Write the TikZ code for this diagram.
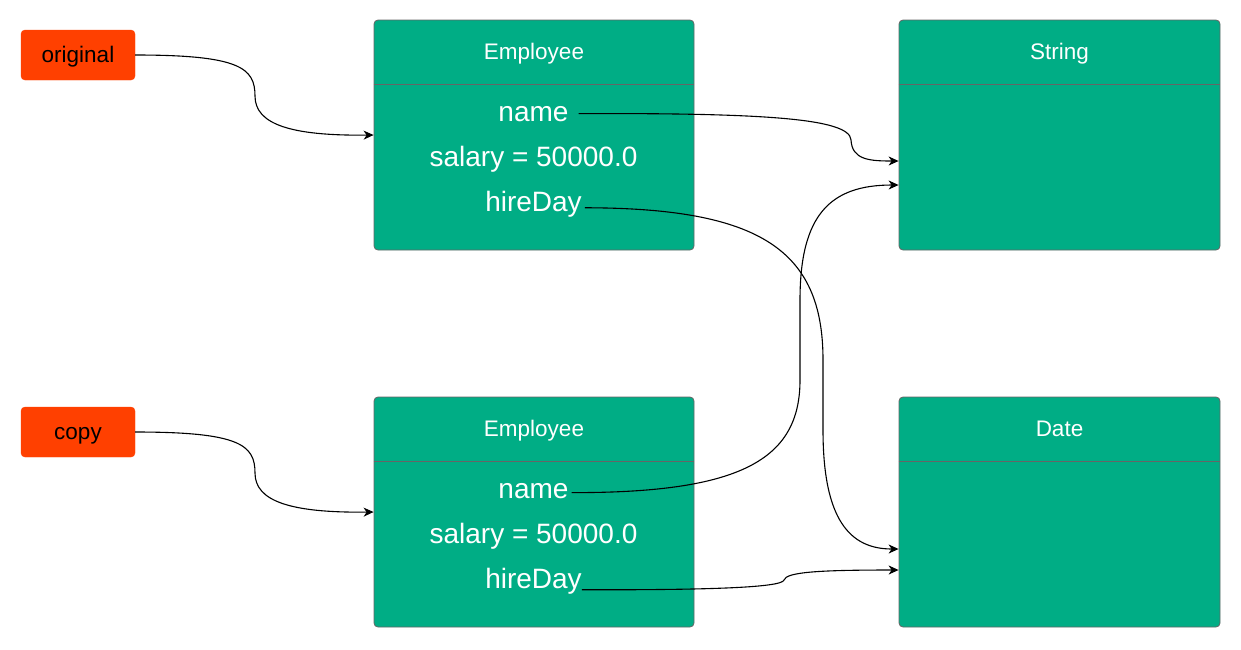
\documentclass[tikz,border=0pt]{standalone}
\usepackage{fontspec}
\setmainfont{Liberation Sans}
\usetikzlibrary{arrows.meta,calc}
\definecolor{empgreen}{HTML}{00AD85}
\definecolor{refred}{HTML}{FF4000}
\definecolor{edgegray}{HTML}{666666}
\begin{document}
\begin{tikzpicture}[x=1pt,y=-1pt,
  refbox/.style={draw=refred, fill=refred, rounded corners=4pt, minimum width=114pt, minimum height=50pt, inner sep=0pt, text height=16pt, text depth=2pt, font=\fontsize{22.5}{27}\selectfont},
  objbox/.style={draw=edgegray, fill=empgreen, rounded corners=4pt, minimum height=230pt, inner sep=0pt, line width=0.8pt},
  divider/.style={draw=edgegray, line width=0.8pt},
  titletext/.style={text=white, font=\fontsize{22.5}{27}\selectfont, anchor=base, inner sep=0pt},
  fieldtext/.style={text=white, font=\fontsize{28}{33}\selectfont, anchor=base, inner sep=0pt},
  link/.style={draw=black, line width=1.1pt, -{Stealth[length=10pt,width=9pt,inset=3pt]}}]
\useasboundingbox (0,0) rectangle (1241,649);

% reference variables
\node[refbox] (orig) at (78,55) {original};
\node[refbox] (copy) at (78,432) {copy};

% object boxes
\node[objbox, minimum width=320pt] (emp1) at (534,135) {};
\node[objbox, minimum width=321pt] (string) at (1059.5,135) {};
\node[objbox, minimum width=320pt] (emp2) at (534,512) {};
\node[objbox, minimum width=321pt] (date) at (1059.5,512) {};

\foreach \b in {emp1,string,emp2,date}{
  \draw[divider] ($(\b.north west)+(0,65)$) -- ($(\b.north east)+(0,65)$);
}

% titles
\node[titletext] (t1) at (534,59) {Employee};
\node[titletext] (t2) at (1059.5,59) {String};
\node[titletext] (t3) at (534,436) {Employee};
\node[titletext] (t4) at (1059.5,436) {Date};

% fields
\node[fieldtext] (name1) at (533.5,121) {name};
\node[fieldtext] (sal1) at (533.5,166) {salary = 50000.0};
\node[fieldtext] (hire1) at (533.5,211) {hireDay};
\node[fieldtext] (name2) at (533.5,498) {name};
\node[fieldtext] (sal2) at (533.5,543) {salary = 50000.0};
\node[fieldtext] (hire2) at (533.5,588) {hireDay};

% connectors
\draw[link] (orig.east) .. controls (240,55) and (255,68) .. (255,96)
  .. controls (255,124) and (290,136) .. (emp1.west);
\draw[link] (copy.east) .. controls (240,432) and (255,445) .. (255,473)
  .. controls (255,501) and (290,513) .. (emp2.west);

\draw[link] ($(name1.east)+(10,0)$) .. controls (760,113) and (850,118) .. (851,140)
  .. controls (852,160) and (870,161) .. ($(string.west)+(0,26)$);

\draw[link] ($(name2.east)+(3,2)$) .. controls (740,493) and (800,460) .. (800,380)
  -- (800,300) .. controls (800,215) and (830,185) .. ($(string.west)+(0,50)$);

\draw[link] ($(hire1.east)+(3,4)$) .. controls (760,208) and (823,250) .. (823,360)
  -- (823,430) .. controls (823,520) and (850,549) .. ($(date.west)+(0,37)$);

\draw[link] ($(hire2.east)+(0,9)$) .. controls (700,590) and (782,588) .. (784,580)
  .. controls (786,572) and (820,570) .. ($(date.west)+(0,58)$);
\end{tikzpicture}
\end{document}
